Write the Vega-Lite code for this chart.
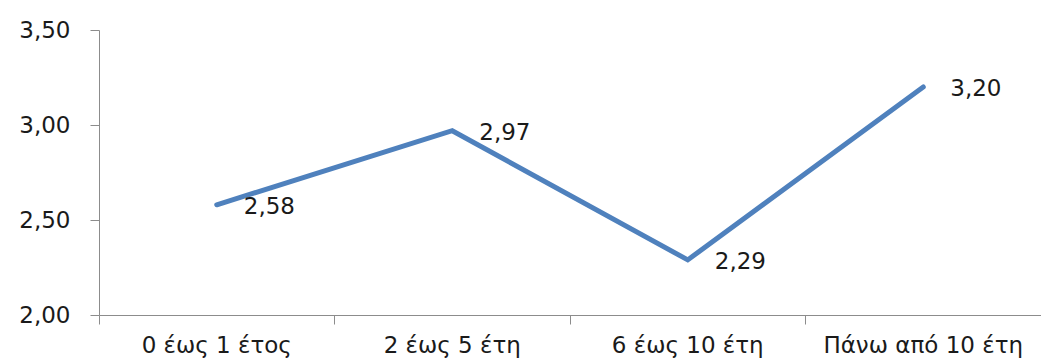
{
  "$schema": "https://vega.github.io/schema/vega-lite/v6.json",
  "width": 942,
  "height": 285,
  "autosize": {"type": "none"},
  "padding": {"left": 99, "top": 30, "right": 0, "bottom": 48},
  "background": "white",
  "data": {
    "values": [
      {"period": "0 έως 1 έτος", "score": 2.58},
      {"period": "2 έως 5 έτη", "score": 2.97},
      {"period": "6 έως 10 έτη", "score": 2.29},
      {"period": "Πάνω από 10 έτη", "score": 3.20}
    ]
  },
  "transform": [
    {"calculate": "replace(format(datum.score, '.2f'), '.', ',')", "as": "label"}
  ],
  "encoding": {
    "x": {
      "field": "period",
      "type": "nominal",
      "sort": null,
      "scale": {"type": "band", "paddingInner": 0, "paddingOuter": 0},
      "axis": {
        "title": null,
        "labelAngle": 0,
        "bandPosition": 0,
        "tickSize": 9,
        "labelPadding": 10,
        "labelLimit": 0,
        "labelFont": "DejaVu Sans",
        "labelFontSize": 23,
        "labelColor": "#1a1a1a",
        "labelBaseline": "top",
        "domainColor": "#8c8c8c",
        "tickColor": "#8c8c8c",
        "grid": false
      }
    },
    "y": {
      "field": "score",
      "type": "quantitative",
      "scale": {"domain": [2, 3.5], "zero": false, "nice": false},
      "axis": {
        "title": null,
        "values": [2, 2.5, 3, 3.5],
        "labelExpr": "replace(format(datum.value, '.2f'), '.', ',')",
        "tickSize": 9,
        "labelPadding": 20,
        "labelFont": "DejaVu Sans",
        "labelFontSize": 23,
        "labelColor": "#1a1a1a",
        "domainColor": "#8c8c8c",
        "tickColor": "#8c8c8c",
        "grid": false
      }
    }
  },
  "layer": [
    {
      "mark": {"type": "line", "color": "#4f81bd", "strokeWidth": 5, "strokeJoin": "miter", "strokeCap": "round"}
    },
    {
      "mark": {"type": "text", "align": "left", "baseline": "middle", "dx": 27, "dy": 2, "font": "DejaVu Sans", "fontSize": 23, "color": "#1a1a1a"},
      "encoding": {"text": {"field": "label"}}
    }
  ],
  "config": {"view": {"stroke": null}}
}
